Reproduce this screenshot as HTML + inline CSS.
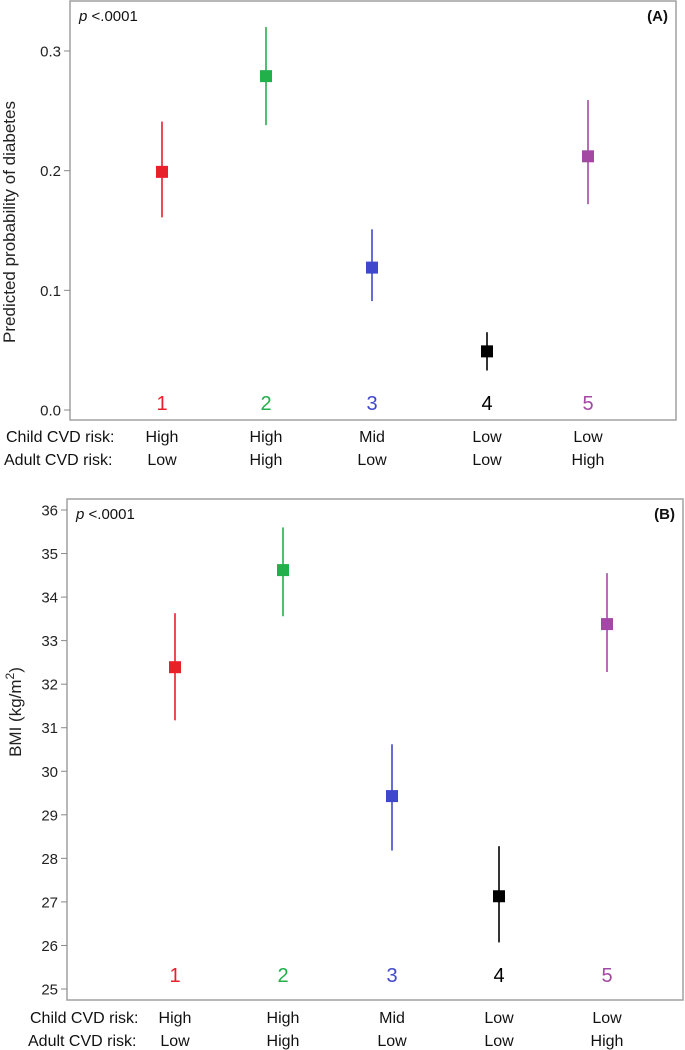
<!DOCTYPE html>
<html><head><meta charset="utf-8"><style>
body{margin:0;background:#fff;}
svg{display:block;font-family:"Liberation Sans",Arial,sans-serif;}
</style></head><body>
<svg id="c" width="685" height="1050"></svg>
<script>
const groups=["1","2","3","4","5"];
const childRisk=["High","High","Mid","Low","Low"];
const adultRisk=["Low","High","Low","Low","High"];
const colors=["#e8202a","#22b04b","#3f48cc","#000000","#a349a4"];
const probMean=[0.199,0.279,0.119,0.049,0.212];
const probLow=[0.161,0.238,0.091,0.033,0.172];
const probHigh=[0.241,0.320,0.151,0.065,0.259];
const probTicks=["0.0","0.1","0.2","0.3"];
const bmiMean=[32.39,34.62,29.43,27.13,33.38];
const bmiLow=[31.17,33.56,28.18,26.07,32.28];
const bmiHigh=[33.63,35.6,30.62,28.28,34.55];
const bmiTicks=["25","26","27","28","29","30","31","32","33","34","35","36"];

const NS="http://www.w3.org/2000/svg";
const svg=document.getElementById('c');
function mk(t,a,p){const e=document.createElementNS(NS,t);for(const k in a)e.setAttribute(k,a[k]);(p||svg).appendChild(e);return e;}

function panel(cfg){
  const g=mk('g',{});
  
  
  const f=mk('rect',{x:cfg.l,y:cfg.t,width:cfg.r-cfg.l,height:cfg.b-cfg.t,fill:'none',stroke:'#a0a0a0','stroke-width':1.5},g);
  
  
  const y=v=>cfg.y0+(v-cfg.v0)*(cfg.y1-cfg.y0)/(cfg.v1-cfg.v0);
  cfg.ticks.forEach(tk=>{
    const v=parseFloat(tk),yy=y(v);
    const ln=mk('line',{x1:cfg.l-6,x2:cfg.l,y1:yy,y2:yy,stroke:'#888'},g);
    
    
    const tx=mk('text',{x:cfg.l-9,y:yy+5.5,'text-anchor':'end','font-size':15,fill:'#222'},g);
    tx.textContent=tk;
    
    
  });
  cfg.mean.forEach((m,i)=>{
    const x=cfg.xs[i];
    const ci=mk('line',{x1:x,x2:x,y1:y(cfg.hi[i]),y2:y(cfg.lo[i]),stroke:colors[i],'stroke-width':1.6},g);
    
    
    const sq=mk('rect',{x:x-6,y:y(m)-6,width:12,height:12,fill:colors[i]},g);
    
    
    const n=mk('text',{x:x,y:cfg.numY,'text-anchor':'middle','font-size':20,fill:colors[i]},g);
    n.textContent=groups[i];
    
    
    const c=mk('text',{x:x,y:cfg.row1,'text-anchor':'middle','font-size':16,fill:'#111'},g);
    c.textContent=childRisk[i];
    
    
    const a=mk('text',{x:x,y:cfg.row2,'text-anchor':'middle','font-size':16,fill:'#111'},g);
    a.textContent=adultRisk[i];
    
    
  });
  const cl=mk('text',{x:cfg.lx,y:cfg.row1,'font-size':16,fill:'#111'},g);
  cl.textContent='Child CVD risk:';
  
  
  const al=mk('text',{x:cfg.lx-2,y:cfg.row2,'font-size':16,fill:'#111'},g);
  al.textContent='Adult CVD risk:';
  
  
  const p=mk('text',{x:cfg.l+9,y:cfg.t+20,'font-size':15,fill:'#111'},g);
  p.innerHTML='<tspan font-style="italic">p</tspan> &lt;.0001';
  
  
  const pl=mk('text',{x:cfg.r-8,y:cfg.t+20,'text-anchor':'end','font-size':15,'font-weight':'bold',fill:'#111'},g);
  pl.textContent=cfg.label;
  
  
  const yt=mk('text',{transform:`translate(${cfg.ytx},${cfg.yty}) rotate(-90)`,'text-anchor':'middle','font-size':cfg.yfs,fill:'#222'},g);
  yt.innerHTML=cfg.ytitle;
  
  
}
panel({name:'panel-a',l:70,t:1,r:676,b:420,v0:0,v1:0.3,y0:410,y1:51,ticks:probTicks,
  mean:probMean,lo:probLow,hi:probHigh,xs:[162,266,372,487,588],numY:410,row1:442,row2:465,lx:6,
  label:'(A)',ytx:15,yty:222,yfs:17,ytitle:'Predicted probability of diabetes'});
panel({name:'panel-b',l:67,t:499,r:683,b:1000,v0:25,v1:36,y0:989,y1:510,ticks:bmiTicks,
  mean:bmiMean,lo:bmiLow,hi:bmiHigh,xs:[175,283,392,499,607],numY:982,row1:1023,row2:1046,lx:30,
  label:'(B)',ytx:21,yty:712,yfs:17,ytitle:'BMI (kg/m<tspan dy="-7" font-size="12">2</tspan><tspan dy="7">)</tspan>'});
</script>
</body></html>
